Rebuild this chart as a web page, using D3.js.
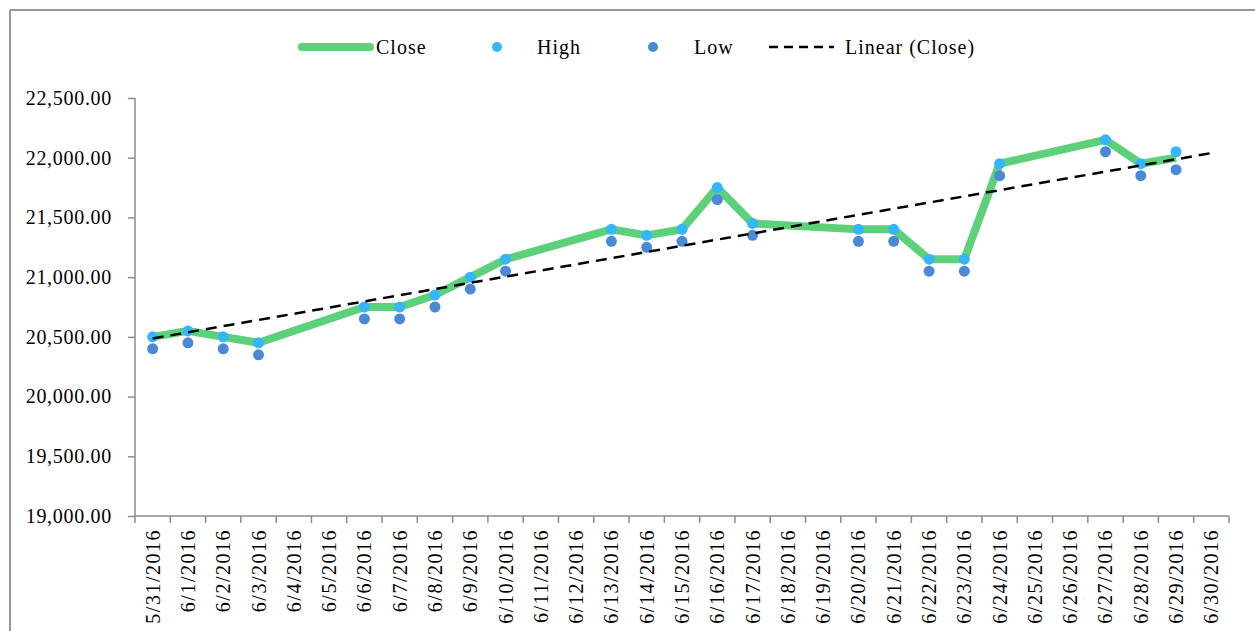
<!DOCTYPE html>
<html>
<head>
<meta charset="utf-8">
<script src="https://cdn.jsdelivr.net/npm/d3@7"></script>
<style>
  body { margin: 0; background: #fff; }
  text { font-family: "Palatino Linotype", "Book Antiqua", "Liberation Serif", serif; fill: #000; }
  .axis path, .axis line { stroke: #8c8c8c; }
</style>
</head>
<body>
<div id="chart"></div>
<script>
var margin = {top: 98, right: 26, bottom: 115, left: 135};
var W = 1255, H = 631;
var width = W - margin.left - margin.right;
var height = H - margin.top - margin.bottom;

// categories (every calendar day, weekends have no data)
var dates = ["5/31/2016","6/1/2016","6/2/2016","6/3/2016","6/4/2016","6/5/2016","6/6/2016",
  "6/7/2016","6/8/2016","6/9/2016","6/10/2016","6/11/2016","6/12/2016","6/13/2016","6/14/2016",
  "6/15/2016","6/16/2016","6/17/2016","6/18/2016","6/19/2016","6/20/2016","6/21/2016","6/22/2016",
  "6/23/2016","6/24/2016","6/25/2016","6/26/2016","6/27/2016","6/28/2016","6/29/2016","6/30/2016"];

var closeVals = [20500,20550,20500,20450,null,null,20750,20750,20850,21000,21150,null,null,21400,21350,
  21400,21750,21450,null,null,21400,21400,21150,21150,21950,null,null,22150,21950,22000,null];
var highVals = [20500,20550,20500,20450,null,null,20750,20750,20850,21000,21150,null,null,21400,21350,
  21400,21750,21450,null,null,21400,21400,21150,21150,21950,null,null,22150,21950,22050,null];
var lowVals = [20400,20450,20400,20350,null,null,20650,20650,20750,20900,21050,null,null,21300,21250,
  21300,21650,21350,null,null,21300,21300,21050,21050,21850,null,null,22050,21850,21900,null];

var yTicks = [19000,19500,20000,20500,21000,21500,22000,22500];

var svg = d3.select("#chart")
  .append("svg")
  .attr("width", W)
  .attr("height", H);

// outer chart border (only top and left show in frame)
svg.append("line").attr("x1", 10).attr("x2", W).attr("y1", 10).attr("y2", 10)
  .attr("stroke", "#999").attr("stroke-width", 2);
svg.append("line").attr("x1", 10).attr("x2", 10).attr("y1", 10).attr("y2", H)
  .attr("stroke", "#999").attr("stroke-width", 2);

var x = d3.scaleBand().domain(dates).range([0, width]).padding(0);
var y = d3.scaleLinear().domain([19000, 22500]).range([height, 0]);
var cx = function(d) { return x(d) + x.bandwidth() / 2; };

var g = svg.append("g")
  .attr("transform", "translate(" + margin.left + "," + margin.top + ")");

// y axis
var yAxis = g.append("g")
  .attr("class", "axis")
  .call(d3.axisLeft(y).tickValues(yTicks).tickSize(7).tickPadding(16)
    .tickFormat(d3.format(",.2f")));
yAxis.select(".domain").remove();
yAxis.append("line").attr("x1", 0).attr("x2", 0).attr("y1", 0).attr("y2", height)
  .attr("stroke", "#8c8c8c").attr("stroke-width", 1.5);
yAxis.selectAll("line").attr("stroke-width", 1.5);
yAxis.selectAll("text").style("font-size", "20px").style("letter-spacing", "0.7px").attr("fill", "#000");

// x axis: line, ticks between categories, rotated labels
var xg = g.append("g").attr("class", "axis").attr("transform", "translate(0," + height + ")");
xg.append("line").attr("x1", 0).attr("x2", width).attr("y1", 0).attr("y2", 0)
  .attr("stroke", "#8c8c8c").attr("stroke-width", 1.5);
xg.selectAll(".tk")
  .data(dates.concat(["end"]))
  .enter().append("line")
  .attr("class", "tk")
  .attr("x1", function(d, i) { return i < dates.length ? x(d) : width; })
  .attr("x2", function(d, i) { return i < dates.length ? x(d) : width; })
  .attr("y1", 0).attr("y2", 7)
  .attr("stroke", "#8c8c8c").attr("stroke-width", 1.5);
xg.selectAll(".lbl")
  .data(dates)
  .enter().append("text")
  .attr("class", "lbl")
  .attr("transform", function(d) { return "translate(" + cx(d) + ",13) rotate(-90)"; })
  .attr("dy", "0.35em")
  .style("text-anchor", "end")
  .style("font-size", "20px")
  .style("letter-spacing", "1.5px")
  .text(function(d) { return d; });

// close line (gaps bridged)
var closePts = dates.map(function(d, i) { return {d: d, v: closeVals[i], i: i}; })
  .filter(function(p) { return p.v != null; });

var line = d3.line()
  .x(function(p) { return cx(p.d); })
  .y(function(p) { return y(p.v); });

g.append("path")
  .datum(closePts)
  .attr("fill", "none")
  .attr("stroke", "#5dd07a")
  .attr("stroke-width", 8)
  .attr("stroke-linejoin", "round")
  .attr("d", line);

// linear trend of close vs day index
var mx = d3.mean(closePts, function(p) { return p.i; });
var my = d3.mean(closePts, function(p) { return p.v; });
var sxy = d3.sum(closePts, function(p) { return (p.i - mx) * (p.v - my); });
var sxx = d3.sum(closePts, function(p) { return (p.i - mx) * (p.i - mx); });
var slope = sxy / sxx, icpt = my - slope * mx;
var lastI = dates.length - 1;

// high / low markers
function dots(vals, color) {
  g.append("g").selectAll("circle")
    .data(dates.map(function(d, i) { return {d: d, v: vals[i]}; })
      .filter(function(p) { return p.v != null; }))
    .enter().append("circle")
    .attr("cx", function(p) { return cx(p.d); })
    .attr("cy", function(p) { return y(p.v); })
    .attr("r", 5.5)
    .attr("fill", color);
}
dots(lowVals, "#4a88d8");
dots(highVals, "#35b6fc");

g.append("line")
  .attr("x1", cx(dates[0])).attr("y1", y(icpt))
  .attr("x2", cx(dates[lastI])).attr("y2", y(icpt + slope * lastI))
  .attr("stroke", "#000")
  .attr("stroke-width", 2.5)
  .attr("stroke-dasharray", "11,7");

// legend
var lg = svg.append("g").attr("transform", "translate(0,47)");
lg.append("line").attr("x1", 302).attr("x2", 370).attr("y1", 0).attr("y2", 0)
  .attr("stroke", "#5dd07a").attr("stroke-width", 8).attr("stroke-linecap", "round");
lg.append("text").attr("x", 376).attr("dy", "0.35em").style("font-size", "20px").style("letter-spacing", "1px").text("Close");
lg.append("circle").attr("cx", 497).attr("cy", 0).attr("r", 5).attr("fill", "#35b6fc");
lg.append("text").attr("x", 537).attr("dy", "0.35em").style("font-size", "20px").style("letter-spacing", "1px").text("High");
lg.append("circle").attr("cx", 653).attr("cy", 0).attr("r", 5).attr("fill", "#4a88d8");
lg.append("text").attr("x", 694).attr("dy", "0.35em").style("font-size", "20px").style("letter-spacing", "1px").text("Low");
lg.append("line").attr("x1", 769).attr("x2", 834).attr("y1", 0).attr("y2", 0)
  .attr("stroke", "#000").attr("stroke-width", 2.5).attr("stroke-dasharray", "9,6");
lg.append("text").attr("x", 845).attr("dy", "0.35em").style("font-size", "20px").style("letter-spacing", "1px").text("Linear (Close)");
</script>
</body>
</html>
